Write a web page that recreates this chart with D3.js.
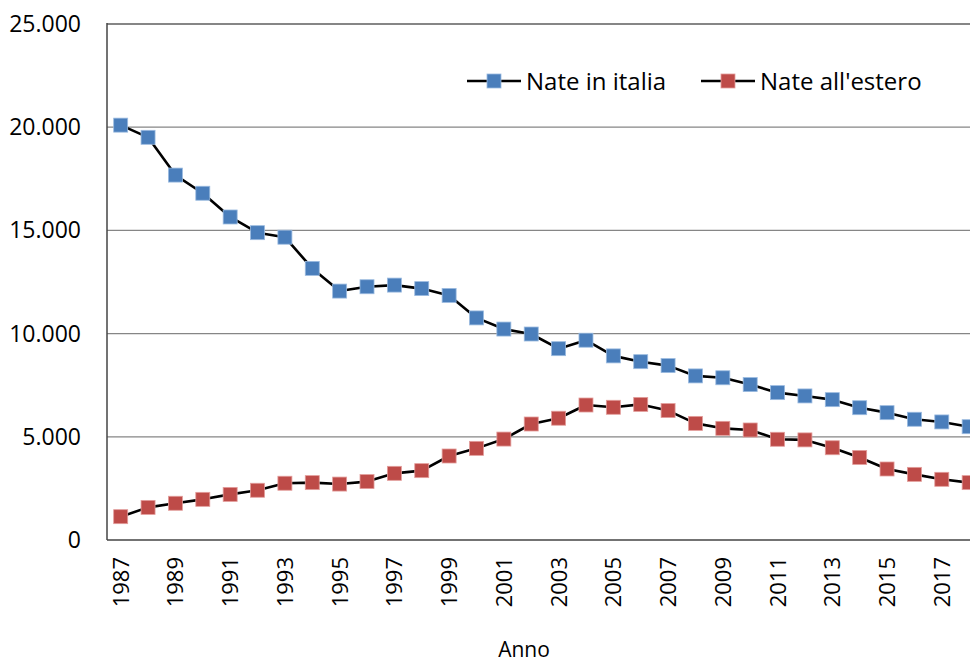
<!DOCTYPE html>
<html>
<head>
<meta charset="utf-8">
<script src="https://cdn.jsdelivr.net/npm/d3@7/dist/d3.min.js"></script>
<style>
  body { margin: 0; background: #fff; }
  svg { display: block; font-family: "Open Sans", sans-serif; }
</style>
</head>
<body>
<div id="chart_container"></div>
<script>
// data
const YEARS = d3.range(1987, 2019);
const NATE_ITALIA = [
  20100, 19510, 17680, 16800, 15650, 14890, 14670, 13160, 12060, 12270,
  12350, 12180, 11850, 10760, 10220, 9980, 9270, 9680, 8920, 8640,
  8450, 7950, 7860, 7530, 7140, 6980, 6800, 6410, 6170, 5850, 5720, 5490,
];
const NATE_ESTERO = [
  1130, 1580, 1780, 1970, 2210, 2410, 2750, 2780, 2710, 2830,
  3230, 3360, 4070, 4440, 4890, 5620, 5900, 6540, 6430, 6570,
  6270, 5650, 5410, 5330, 4880, 4850, 4470, 4000, 3440, 3180, 2940, 2780,
];
const Y_TICKS = [0, 5000, 10000, 15000, 20000, 25000];
const SERIES = [
  { name: "Nate in italia", values: NATE_ITALIA, color: "#4a7ebb", edge: "#9bbbe0" },
  { name: "Nate all'estero", values: NATE_ESTERO, color: "#be4b48", edge: "#e39d9b" },
];

// chart dimensions
const WIDTH = 970;
const HEIGHT = 662;
const PLOT = Object.freeze({ left: 107, top: 24, bottom: 540 });
const BAND = 27.37;
const MARKER = 14;

const svg = d3
  .select("#chart_container")
  .append("svg")
  .attr("width", WIDTH)
  .attr("height", HEIGHT);

const x = d3
  .scaleBand()
  .domain(YEARS)
  .range([PLOT.left, PLOT.left + BAND * YEARS.length]);

const y = d3
  .scaleLinear()
  .domain([0, 25000])
  .range([PLOT.bottom, PLOT.top]);

const cx = (year) => x(year) + x.bandwidth() / 2;
const fmt = (v) => d3.format(",")(v).replace(/,/g, ".");

// gridlines
svg
  .append("g")
  .selectAll("line")
  .data(Y_TICKS.filter((t) => t > 0))
  .join("line")
  .attr("x1", PLOT.left)
  .attr("x2", WIDTH)
  .attr("y1", (d) => y(d))
  .attr("y2", (d) => y(d))
  .attr("stroke", "#868686")
  .attr("stroke-width", (d) => (d === 25000 ? 2 : 1.3));

// axes lines
svg
  .append("line")
  .attr("x1", PLOT.left)
  .attr("x2", PLOT.left)
  .attr("y1", PLOT.top - 1)
  .attr("y2", PLOT.bottom)
  .attr("stroke", "#444")
  .attr("stroke-width", 1.5);
svg
  .append("line")
  .attr("x1", PLOT.left)
  .attr("x2", WIDTH)
  .attr("y1", y(0))
  .attr("y2", y(0))
  .attr("stroke", "#444")
  .attr("stroke-width", 1.5);

// y tick labels
svg
  .append("g")
  .selectAll("text")
  .data(Y_TICKS)
  .join("text")
  .attr("x", 81)
  .attr("y", (d) => y(d) + 8)
  .attr("text-anchor", "end")
  .style("font-size", "23px")
  .style("fill", "#000")
  .text((d) => fmt(d));

// x tick labels, every other year
svg
  .append("g")
  .selectAll("text")
  .data(YEARS.filter((d, i) => i % 2 === 0))
  .join("text")
  .attr("transform", (d) => `translate(${cx(d) + 8},557)rotate(-90)`)
  .attr("text-anchor", "end")
  .style("font-size", "22px")
  .style("fill", "#000")
  .text((d) => d);

// x axis title
svg
  .append("text")
  .attr("x", 524)
  .attr("y", 657)
  .attr("text-anchor", "middle")
  .style("font-size", "21px")
  .text("Anno");

// lines and markers
const line = d3
  .line()
  .x((d, i) => cx(YEARS[i]))
  .y((d) => y(d));

SERIES.forEach((s) => {
  svg
    .append("path")
    .datum(s.values)
    .attr("d", line)
    .attr("fill", "none")
    .attr("stroke", "#000")
    .attr("stroke-width", 2.6)
    .attr("stroke-linejoin", "round");

  svg
    .append("g")
    .selectAll("rect")
    .data(s.values)
    .join("rect")
    .attr("x", (d, i) => cx(YEARS[i]) - MARKER / 2)
    .attr("y", (d) => y(d) - MARKER / 2)
    .attr("width", MARKER)
    .attr("height", MARKER)
    .attr("fill", s.color)
    .attr("stroke", s.edge)
    .attr("stroke-width", 0.8);
});

// legend
const LEGEND_POS = [467, 701];
const legend = svg.append("g");
SERIES.forEach((s, i) => {
  const g = legend.append("g").attr("transform", `translate(${LEGEND_POS[i]},81)`);
  g.append("line")
    .attr("x1", 0)
    .attr("x2", 54)
    .attr("stroke", "#000")
    .attr("stroke-width", 2.6);
  g.append("rect")
    .attr("x", 27 - MARKER / 2)
    .attr("y", -MARKER / 2)
    .attr("width", MARKER)
    .attr("height", MARKER)
    .attr("fill", s.color)
    .attr("stroke", s.edge)
    .attr("stroke-width", 0.8);
  g.append("text")
    .attr("x", 59)
    .attr("y", 9)
    .style("font-size", "24px")
    .text(s.name);
});
</script>
</body>
</html>
